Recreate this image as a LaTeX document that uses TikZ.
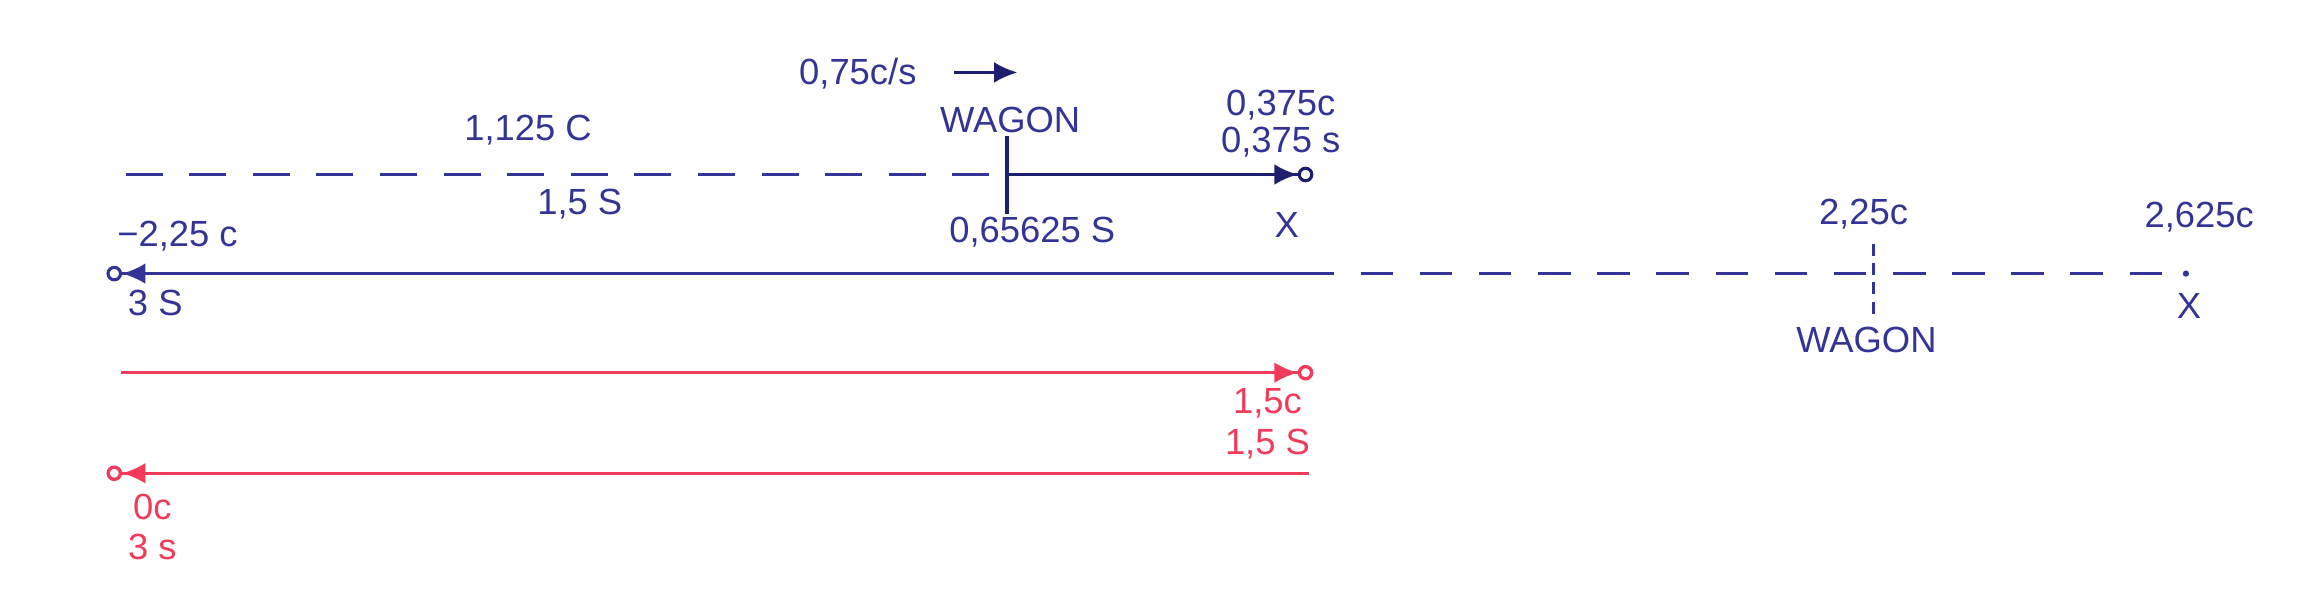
\documentclass[tikz,border=0pt]{standalone}
\usepackage{fontspec}
\setmainfont{Liberation Sans}
\usetikzlibrary{arrows.meta}
\definecolor{ink}{RGB}{52,52,150}
\definecolor{darkink}{RGB}{30,30,110}
\definecolor{redink}{RGB}{240,60,90}
\begin{document}
\begin{tikzpicture}[x=0.02cm, y=-0.02cm, font=\fontsize{14}{16}\selectfont]
    % Define styles
    \tikzset{
        lbl/.style={inner sep=0pt, text=ink},
        redlbl/.style={inner sep=0pt, text=redink},
        track/.style={ink, line width=1.2pt},
        dashtrack/.style={ink, line width=1.2pt, dash pattern=on 0.5cm off 0.36cm},
        redtrack/.style={redink, line width=1.3pt},
        tip/.style={-{Latex[length=9pt,width=8pt]Circle[open,length=6pt,width=6pt]}},
        wagontick/.style={darkink, line width=1.6pt},
    }
    \useasboundingbox (0,0) rectangle (1568,411);

    % Speed of the wagon
    \node[lbl] (speed) at (580,50) {0,75c/s};
    \coordinate (sa) at (645,49);
    \coordinate (sb) at (688,49);
    \draw[darkink, line width=1.2pt, -{Latex[length=9pt,width=8pt]}] (sa) -- (sb);

    % First line: wagon and signal to X
    \coordinate (l1a) at (85,118);
    \coordinate (w1top) at (681,92);
    \coordinate (w1) at (681,118);
    \coordinate (w1bot) at (681,145);
    \coordinate (l1b) at (888,118);
    \draw[dashtrack] (l1a) -- (w1);
    \draw[wagontick] (w1top) -- (w1bot);
    \draw[track, darkink, tip] (w1) -- (l1b);

    \node[lbl] (wagon1) at (683,81) {WAGON};
    \node[lbl] (d1) at (357,88) {1,125 C};
    \node[lbl] (t1) at (392,138) {1,5 S};
    \node[lbl] (xc) at (866,71) {0,375c};
    \node[lbl] (xt) at (866,96) {0,375 s};
    \node[lbl] (tw1) at (698,157) {0,65625 S};
    \node[lbl] (x1) at (870,152) {X};

    % Second line: signal back and far wagon
    \coordinate (l2a) at (880,185);
    \coordinate (l2b) at (72,185);
    \coordinate (l2c) at (1478,185);
    \coordinate (w2top) at (1267,165);
    \coordinate (w2bot) at (1267,212);
    \draw[track, tip] (l2a) -- (l2b);
    \draw[dashtrack, dash pattern=on 0.44cm off 0.36cm] (l2a) -- (l2c);
    \fill[ink] (l2c) circle (1.2pt);
    \draw[ink, line width=1.2pt, dash pattern=on 0.16cm off 0.1cm] (w2top) -- (w2bot);

    \node[lbl] (d2) at (120,160) {−2,25 c};
    \node[lbl] (t2) at (105,205) {3 S};
    \node[lbl] (d3) at (1260,145) {2,25c};
    \node[lbl] (d4) at (1487,147) {2,625c};
    \node[lbl] (x2) at (1480,207) {X};
    \node[lbl] (wagon2) at (1262,230) {WAGON};

    % Red lines
    \coordinate (r1a) at (82,252);
    \coordinate (r1b) at (888,252);
    \coordinate (r2a) at (885,320);
    \coordinate (r2b) at (72,320);
    \draw[redtrack, tip] (r1a) -- (r1b);
    \draw[redtrack, tip] (r2a) -- (r2b);

    \node[redlbl] (rd1) at (857,273) {1,5c};
    \node[redlbl] (rt1) at (857,300) {1,5 S};
    \node[redlbl] (rd2) at (103,343) {0c};
    \node[redlbl] (rt2) at (103,370) {3 s};
\end{tikzpicture}
\end{document}
